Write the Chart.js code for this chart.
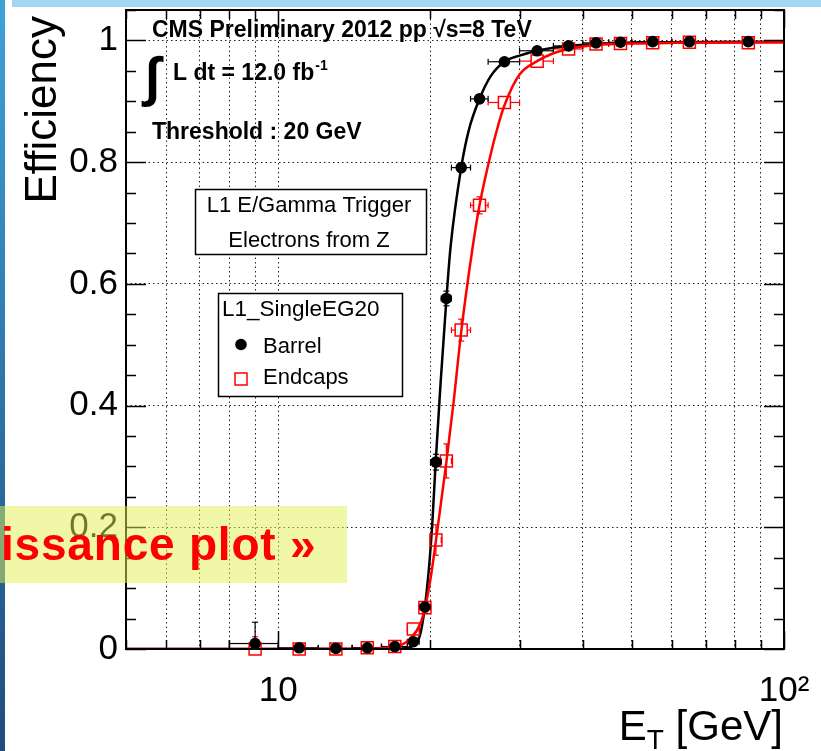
<!DOCTYPE html>
<html>
<head>
<meta charset="utf-8">
<script src="https://cdn.jsdelivr.net/npm/chart.js@4.4.1/dist/chart.umd.min.js"></script>
<style>
html,body{margin:0;padding:0;background:#fff;overflow:hidden;}
#wrap{position:relative;width:821px;height:751px;}
#c{position:absolute;left:0;top:0;}
.band-left{position:absolute;left:0;top:0;width:5px;height:751px;background:linear-gradient(#3ea2d9,#1f4c7c);}
.band-top{position:absolute;left:12px;top:0;width:809px;height:7px;background:#a3d6f2;}
.banner{position:absolute;left:0;top:506px;width:347px;height:77px;background:rgba(226,241,82,0.5);overflow:hidden;}
.banner span{position:absolute;left:1px;top:15px;font:bold 46px "Liberation Sans",Arial,sans-serif;color:#ff0000;letter-spacing:0.8px;white-space:nowrap;line-height:46px;}
</style>
</head>
<body>
<div id="wrap">
<canvas id="c" width="821" height="751"></canvas>
<div class="band-left"></div>
<div class="band-top"></div>
<div class="banner"><span>issance plot »</span></div>
</div>
<script>
// ---------------- data ----------------
const binCentre  = [9, 11, 13, 15, 17, 18.5, 19.5, 20.5, 21.5, 23, 25, 28, 32.5, 37.5, 42.5, 47.5, 55, 65, 85];
const binLow     = [8, 10, 12, 14, 16, 18, 19, 20, 21, 22, 24, 26, 30, 35, 40, 45, 50, 60, 70];
const binHigh    = [10, 12, 14, 16, 18, 19, 20, 21, 22, 24, 26, 30, 35, 40, 45, 50, 60, 70, 100];
const barrelEff  = [0.009, 0.002, 0.001, 0.002, 0.004, 0.012, 0.069, 0.307, 0.576, 0.791, 0.904, 0.965, 0.983, 0.991, 0.996, 0.997, 0.998, 0.998, 0.998];
const barrelErr  = [0.035, 0.004, 0.003, 0.003, 0.003, 0.004, 0.008, 0.013, 0.012, 0.008, 0.006, 0.004, 0.003, 0.002, 0.002, 0.002, 0.002, 0.002, 0.002];
const endcapEff  = [0.0, 0.0, 0.0, 0.002, 0.004, 0.033, 0.068, 0.179, 0.309, 0.524, 0.729, 0.898, 0.966, 0.986, 0.994, 0.995, 0.996, 0.997, 0.996];
const endcapErr  = [0.02, 0.004, 0.003, 0.003, 0.004, 0.008, 0.010, 0.025, 0.028, 0.018, 0.014, 0.008, 0.005, 0.003, 0.003, 0.003, 0.003, 0.003, 0.003];

const fitBarrelE   = [5, 12, 16, 17.5, 18, 18.5, 19.1, 19.7, 20.16, 20.47, 20.94, 21.51, 21.91, 23, 23.82, 25, 26.29, 28, 30, 32.5, 35, 37.5, 43, 50, 60, 100];
const fitBarrelEff = [0, 0, 0, 0.0005, 0.002, 0.006, 0.025, 0.102, 0.205, 0.305, 0.437, 0.577, 0.66, 0.791, 0.853, 0.904, 0.941, 0.965, 0.975, 0.983, 0.988, 0.991, 0.994, 0.996, 0.997, 0.998];
const fitEndcapE   = [5, 14, 15.4, 16.3, 17.2, 18.25, 19.1, 19.56, 20.0, 20.5, 21.1, 21.5, 22.24, 23, 24.19, 25, 26, 27, 28, 30, 32.5, 35, 37.5, 43, 50, 60, 100];
const fitEndcapEff = [0, 0, 0.0005, 0.0015, 0.004, 0.017, 0.042, 0.072, 0.115, 0.178, 0.256, 0.307, 0.409, 0.521, 0.656, 0.729, 0.795, 0.85, 0.893, 0.944, 0.966, 0.979, 0.986, 0.993, 0.995, 0.996, 0.997];

const xTickValues = [5, 6, 7, 8, 9, 10, 20, 30, 40, 50, 60, 70, 80, 90, 100];
const xTickLabels = {10: '10', 100: '10²'};
const yTickLabels = ['0', '0.2', '0.4', '0.6', '0.8', '1'];

const FONT = '"Liberation Sans", Arial, Helvetica, sans-serif';
Chart.defaults.font.family = FONT;

function isMajorY(v) { const k = Math.round(v / 0.2); return Math.abs(v - k * 0.2) < 1e-6; }
function pts(xs, ys) { return xs.map((x, i) => ({x: x, y: ys[i]})); }

function seg(ctx, x1, y1, x2, y2) { ctx.beginPath(); ctx.moveTo(x1, y1); ctx.lineTo(x2, y2); ctx.stroke(); }

function drawErrors(ctx, xs, ys, eff, err, color, gap) {
  ctx.strokeStyle = color; ctx.lineWidth = 1.2;
  for (let i = 0; i < binCentre.length; i++) {
    const px = xs.getPixelForValue(binCentre[i]), py = ys.getPixelForValue(eff[i]);
    const xl = xs.getPixelForValue(binLow[i]), xh = xs.getPixelForValue(binHigh[i]);
    const yt = ys.getPixelForValue(eff[i] + err[i]), yb = ys.getPixelForValue(eff[i] - err[i]);
    if (xl < px - gap) seg(ctx, xl, py, px - gap, py);
    if (xh > px + gap) seg(ctx, px + gap, py, xh, py);
    seg(ctx, xl, py - 3, xl, py + 3); seg(ctx, xh, py - 3, xh, py + 3);
    if (yt < py - gap) { seg(ctx, px, py - gap, px, yt); seg(ctx, px - 3, yt, px + 3, yt); }
    if (yb > py + gap) { seg(ctx, px, py + gap, px, yb); seg(ctx, px - 3, yb, px + 3, yb); }
  }
}

function txt(ctx, s, x, y, font, align, color) {
  ctx.font = font; ctx.fillStyle = color || '#000'; ctx.textAlign = align || 'left';
  ctx.textBaseline = 'alphabetic'; ctx.fillText(s, x, y);
}

const rootStyle = {
  id: 'rootStyle',
  beforeDatasetsDraw(chart) {
    const {ctx, chartArea: a, scales: {x, y}} = chart;
    ctx.save();
    ctx.beginPath(); ctx.rect(a.left, a.top, a.right - a.left, a.bottom - a.top); ctx.clip();
    drawErrors(ctx, x, y, endcapEff, endcapErr, '#ff0000', 6);
    drawErrors(ctx, x, y, barrelEff, barrelErr, '#000000', 0);
    ctx.restore();
  },
  afterDatasetsDraw(chart) {
    const {ctx, chartArea: a, scales: {x, y}} = chart;
    ctx.save();
    // frame
    ctx.strokeStyle = '#000'; ctx.lineWidth = 2;
    ctx.strokeRect(a.left, a.top, a.right - a.left, a.bottom - a.top);
    // inner ticks
    ctx.lineWidth = 1.5;
    x.ticks.forEach(t => {
      const px = Math.round(x.getPixelForValue(t.value)) + 0.5;
      const L = (t.value === 10 || t.value === 100) ? 18 : 9;
      seg(ctx, px, a.bottom, px, a.bottom - L);
      seg(ctx, px, a.top, px, a.top + L);
    });
    y.ticks.forEach(t => {
      const py = Math.round(y.getPixelForValue(t.value)) + 0.5;
      const L = isMajorY(t.value) ? 20 : 10;
      seg(ctx, a.left, py, a.left + L, py);
      seg(ctx, a.right, py, a.right - L, py);
    });
    // CMS labels
    txt(ctx, 'CMS Preliminary 2012 pp √s=8 TeV', 152, 37, 'bold 23px ' + FONT);
    txt(ctx, '∫', 145, 95, 'bold 54px ' + FONT);
    txt(ctx, 'L dt = 12.0 fb', 173, 80, 'bold 23px ' + FONT);
    ctx.font = 'bold 23px ' + FONT;
    const wL = ctx.measureText('L dt = 12.0 fb').width;
    txt(ctx, '-1', 173 + wL + 1, 70, 'bold 14px ' + FONT);
    txt(ctx, 'Threshold : 20 GeV', 152, 138.5, 'bold 23px ' + FONT);
    // trigger box
    ctx.fillStyle = '#fff'; ctx.fillRect(195, 189, 232, 66);
    ctx.strokeStyle = '#000'; ctx.lineWidth = 1.5; ctx.strokeRect(195.5, 189.5, 231, 65);
    txt(ctx, 'L1 E/Gamma Trigger', 309, 212, '22px ' + FONT, 'center');
    txt(ctx, 'Electrons from Z', 309, 247, '22px ' + FONT, 'center');
    // legend box
    ctx.fillStyle = '#fff'; ctx.fillRect(218, 293, 185, 104);
    ctx.strokeRect(218.5, 293.5, 184, 103);
    txt(ctx, 'L1_SingleEG20', 222, 316, '22.5px ' + FONT);
    ctx.fillStyle = '#000'; ctx.beginPath(); ctx.arc(241, 344.5, 5.8, 0, Math.PI * 2); ctx.fill();
    txt(ctx, 'Barrel', 263, 353, '22px ' + FONT);
    ctx.strokeStyle = '#ff0000'; ctx.lineWidth = 1.5; ctx.strokeRect(235, 373, 12, 12);
    txt(ctx, 'Endcaps', 263, 384, '22px ' + FONT);
    // y title
    ctx.save();
    ctx.translate(56, 16); ctx.rotate(-Math.PI / 2);
    txt(ctx, 'Efficiency', 0, 0, '44px ' + FONT, 'right');
    ctx.restore();
    // x title E_T [GeV]
    ctx.font = '42px ' + FONT; const wE = ctx.measureText('E').width; const wR = ctx.measureText(' [GeV]').width;
    ctx.font = '28px ' + FONT; const wT = ctx.measureText('T').width;
    const x0 = 783 - (wE + wT + wR);
    txt(ctx, 'E', x0, 740, '42px ' + FONT);
    txt(ctx, 'T', x0 + wE, 749, '28px ' + FONT);
    txt(ctx, ' [GeV]', x0 + wE + wT, 740, '42px ' + FONT);
    ctx.restore();
  }
};

new Chart(document.getElementById('c'), {
  type: 'scatter',
  data: {
    datasets: [
      {label: 'Barrel', data: pts(binCentre, barrelEff), pointStyle: 'circle', pointRadius: 5.8,
       backgroundColor: '#000', borderColor: '#000', borderWidth: 0, clip: false},
      {label: 'Endcaps', data: pts(binCentre, endcapEff), pointStyle: 'rect', pointRadius: 8.5,
       backgroundColor: 'rgba(0,0,0,0)', borderColor: '#ff0000', borderWidth: 1.5, clip: false},
      {label: 'Endcaps fit', data: pts(fitEndcapE, fitEndcapEff), showLine: true, pointRadius: 0,
       borderColor: '#ff0000', borderWidth: 2.5, cubicInterpolationMode: 'monotone', fill: false},
      {label: 'Barrel fit', data: pts(fitBarrelE, fitBarrelEff), showLine: true, pointRadius: 0,
       borderColor: '#000', borderWidth: 2.5, cubicInterpolationMode: 'monotone', fill: false}
    ]
  },
  options: {
    responsive: false, devicePixelRatio: 1, animation: false, events: [],
    layout: {padding: {left: 0, right: 37, top: 10, bottom: 0}},
    plugins: {legend: {display: false}, tooltip: {enabled: false}, title: {display: false}},
    scales: {
      x: {
        type: 'logarithmic', min: 5, max: 100,
        afterBuildTicks: s => { s.ticks = xTickValues.map(v => ({value: v})); },
        afterFit: s => { s.height = 102; s.paddingLeft = 0; s.paddingRight = 0; },
        ticks: {autoSkip: false, maxRotation: 0, minRotation: 0, padding: 21, color: '#000',
                font: {size: 35}, callback: v => xTickLabels[v] || ''},
        grid: {drawTicks: false, lineWidth: 1,
               color: c => (c.tick && (c.tick.value === 5 || c.tick.value === 100)) ? 'rgba(0,0,0,0)' : '#222'},
        border: {display: false, dash: [1.5, 3]}
      },
      y: {
        type: 'linear', min: 0, max: 1.05,
        afterFit: s => { s.width = 126; s.paddingTop = 0; s.paddingBottom = 0; },
        ticks: {stepSize: 0.05, autoSkip: false, padding: 8, color: '#000', font: {size: 35},
                callback: v => isMajorY(v) ? yTickLabels[Math.round(v / 0.2)] : ''},
        grid: {drawTicks: false, lineWidth: 1,
               color: c => (c.tick && isMajorY(c.tick.value) && c.tick.value > 0.01) ? '#222' : 'rgba(0,0,0,0)'},
        border: {display: false, dash: [1.5, 3]}
      }
    }
  },
  plugins: [rootStyle]
});
</script>
</body>
</html>
